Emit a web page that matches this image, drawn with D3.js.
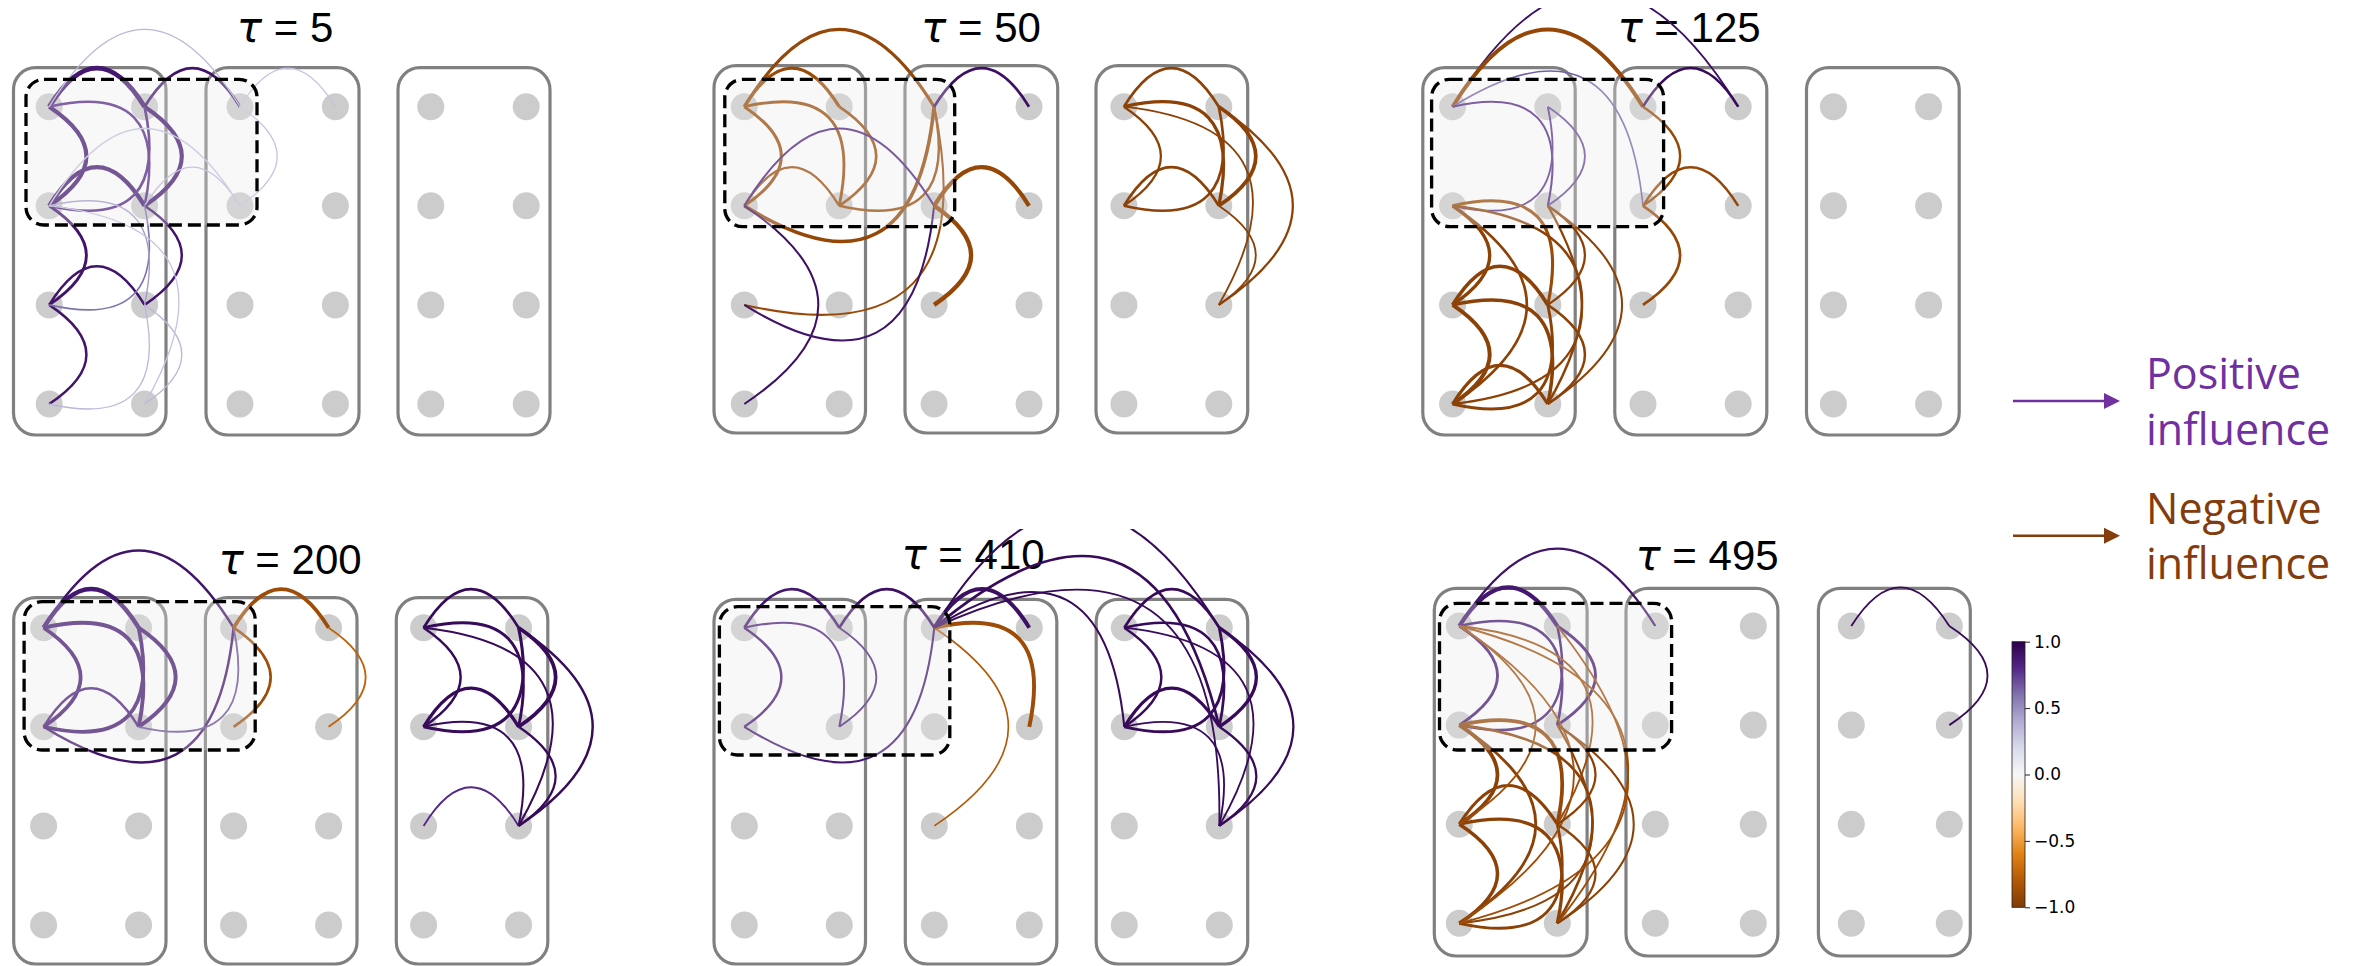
<!DOCTYPE html>
<html>
<head>
<meta charset="utf-8">
<script src="https://cdn.jsdelivr.net/npm/d3@7"></script>
<style>
  body { margin: 0; background: #fff; }
  svg { display: block; }
</style>
</head>
<body>
<div id="chart"></div>
<script>
//////////DATA//////////
// one entry per panel
const taus = [5, 50, 125, 200, 410, 495];

// edges: [fromCol, fromRow, toCol, toRow, influence (-1..1), strength (0..1)]
const edges5 = [
  [1, 0, 0, 0, 0.88, 0.95], [0, 1, 0, 0, 0.88, 0.8], [1, 1, 0, 1, 0.88, 0.85],
  [1, 1, 1, 0, 0.88, 0.8], [1, 1, 0, 0, 0.8, 0.4], [0, 1, 1, 0, 0.82, 0.45],
  [2, 0, 1, 0, 0.9, 0.45], [2, 0, 0, 0, 0.35, 0.12], [3, 0, 2, 0, 0.3, 0.12],
  [2, 1, 2, 0, 0.3, 0.12], [2, 1, 1, 1, 0.35, 0.15], [2, 1, 0, 1, 0.3, 0.12],
  [0, 2, 0, 1, 0.9, 0.5], [1, 2, 0, 2, 0.9, 0.4], [0, 3, 0, 2, 0.9, 0.4],
  [1, 2, 1, 1, 0.9, 0.4], [0, 2, 1, 1, 0.6, 0.2], [1, 2, 0, 1, 0.45, 0.15],
  [1, 3, 1, 2, 0.35, 0.12], [0, 3, 1, 2, 0.35, 0.12], [1, 3, 0, 1, 0.3, 0.12],
];
const edges50 = [
  [2, 0, 0, 0, -0.92, 0.55], [1, 0, 0, 0, -0.9, 0.6], [0, 1, 0, 0, -0.9, 0.55],
  [1, 1, 0, 0, -0.9, 0.5], [1, 1, 1, 0, -0.9, 0.45], [1, 1, 0, 1, -0.9, 0.35],
  [0, 1, 2, 0, -0.92, 0.65], [1, 1, 2, 0, -0.9, 0.4], [0, 2, 2, 0, -0.9, 0.3],
  [2, 1, 0, 1, 0.85, 0.3], [0, 3, 0, 1, 0.92, 0.3], [0, 2, 2, 1, 0.9, 0.3],
  [3, 0, 2, 0, 0.92, 0.45], [2, 2, 2, 1, -0.92, 0.85], [3, 1, 2, 1, -0.92, 0.8],
  [5, 0, 4, 0, -0.95, 0.45], [4, 1, 4, 0, -0.95, 0.35], [5, 1, 4, 1, -0.95, 0.45],
  [5, 1, 4, 0, -0.95, 0.6], [5, 2, 4, 0, -0.95, 0.25], [4, 1, 5, 0, -0.95, 0.45],
  [5, 1, 5, 0, -0.95, 0.7], [5, 2, 5, 0, -0.95, 0.35], [5, 2, 5, 1, -0.95, 0.25],
];
const edges125 = [
  [3, 0, 0, 0, 0.92, 0.25], [2, 0, 0, 0, -0.92, 0.75], [2, 1, 0, 0, 0.65, 0.2],
  [1, 1, 0, 0, 0.82, 0.3], [0, 1, 1, 0, 0.78, 0.25], [1, 1, 1, 0, 0.72, 0.25],
  [3, 0, 2, 0, 0.95, 0.4], [2, 1, 2, 0, -0.92, 0.4], [3, 1, 2, 1, -0.92, 0.4],
  [2, 2, 2, 1, -0.92, 0.45], [0, 2, 0, 1, -0.95, 0.6], [0, 3, 0, 2, -0.95, 0.75],
  [1, 2, 0, 2, -0.95, 0.7], [1, 3, 0, 3, -0.95, 0.6], [1, 3, 0, 2, -0.95, 0.65],
  [0, 3, 1, 2, -0.95, 0.5], [1, 2, 0, 1, -0.9, 0.55], [1, 3, 0, 1, -0.95, 0.4],
  [0, 3, 0, 1, -0.95, 0.45], [1, 2, 1, 1, -0.95, 0.35], [1, 3, 1, 1, -0.95, 0.3],
  [1, 3, 1, 2, -0.95, 0.4], [0, 3, 1, 1, -0.95, 0.35],
];
const edges200 = [
  [2, 0, 0, 0, 0.9, 0.4], [1, 0, 0, 0, 0.88, 0.85], [0, 1, 0, 0, 0.88, 0.7],
  [1, 1, 0, 0, 0.88, 0.75], [1, 1, 0, 1, 0.85, 0.4], [0, 1, 1, 0, 0.88, 0.7],
  [1, 1, 1, 0, 0.88, 0.75], [0, 1, 2, 0, 0.9, 0.4], [1, 1, 2, 0, 0.7, 0.25],
  [3, 0, 2, 0, -0.88, 0.7], [2, 1, 2, 0, -0.88, 0.45], [3, 1, 3, 0, -0.75, 0.25],
  [5, 0, 4, 0, 0.95, 0.45], [4, 1, 4, 0, 0.95, 0.4], [5, 1, 4, 1, 0.95, 0.6],
  [5, 1, 4, 0, 0.95, 0.5], [5, 2, 4, 0, 0.95, 0.3], [4, 1, 5, 0, 0.95, 0.55],
  [5, 1, 5, 0, 0.95, 0.7], [5, 2, 5, 0, 0.95, 0.4], [5, 2, 5, 1, 0.95, 0.35],
  [5, 2, 4, 2, 0.8, 0.25], [5, 2, 4, 1, 0.95, 0.3],
];
const edges410 = [
  [1, 0, 0, 0, 0.88, 0.45], [0, 1, 0, 0, 0.88, 0.4], [1, 1, 0, 0, 0.85, 0.3],
  [1, 1, 1, 0, 0.85, 0.25], [0, 1, 2, 0, 0.88, 0.3], [2, 0, 1, 0, 0.92, 0.45],
  [3, 0, 2, 0, 0.92, 0.75], [3, 1, 2, 0, -0.88, 0.75], [2, 2, 2, 0, -0.8, 0.2],
  [5, 0, 2, 0, 0.95, 0.3], [5, 1, 2, 0, 0.95, 0.45], [4, 1, 2, 0, 0.95, 0.3],
  [5, 2, 2, 0, 0.95, 0.25], [5, 0, 4, 0, 0.95, 0.45], [4, 1, 4, 0, 0.95, 0.4],
  [5, 1, 4, 1, 0.95, 0.55], [5, 1, 4, 0, 0.95, 0.45], [4, 1, 5, 0, 0.95, 0.5],
  [5, 1, 5, 0, 0.95, 0.6], [5, 2, 5, 1, 0.95, 0.35], [5, 2, 4, 0, 0.95, 0.25],
  [5, 2, 4, 1, 0.95, 0.25], [5, 2, 5, 0, 0.95, 0.35],
];
const edges495 = [
  [1, 0, 0, 0, 0.88, 0.8], [2, 0, 0, 0, 0.9, 0.35], [0, 1, 0, 0, 0.88, 0.5],
  [1, 1, 0, 0, 0.88, 0.45], [0, 1, 1, 0, 0.88, 0.4], [1, 1, 1, 0, 0.88, 0.5],
  [1, 2, 0, 1, -0.92, 0.7], [0, 2, 0, 1, -0.95, 0.7], [0, 3, 0, 2, -0.95, 0.65],
  [1, 2, 0, 2, -0.95, 0.55], [1, 3, 0, 2, -0.95, 0.6], [0, 3, 1, 2, -0.95, 0.5],
  [1, 3, 0, 1, -0.95, 0.45], [0, 3, 0, 1, -0.95, 0.5], [1, 3, 0, 0, -0.88, 0.25],
  [1, 2, 0, 0, -0.88, 0.25], [0, 2, 0, 0, -0.88, 0.25], [0, 3, 0, 0, -0.88, 0.25],
  [1, 3, 1, 1, -0.95, 0.3], [1, 3, 1, 2, -0.95, 0.35], [1, 2, 1, 1, -0.95, 0.35],
  [0, 3, 1, 1, -0.95, 0.3], [0, 3, 1, 0, -0.88, 0.25],
  [5, 0, 4, 0, 0.95, 0.25], [5, 1, 5, 0, 0.95, 0.25],
];
const edgeSets = [edges5, edges50, edges125, edges200, edges410, edges495];

const cbarTicks = [1, 0.5, 0, -0.5, -1];
const legendLabels = [
  ["Positive", "influence"],
  ["Negative", "influence"],
];

//////////LAYOUT//////////
const svgObj = { width: 2364, height: 966 };

// node grid: 6 columns (3 groups of 2) x 4 rows, per panel
const panelLayout = [
  { x0: 49.2, dx: 95.4, y0: 106.7, dy: 99.1, gx: [[13.5, 166], [206, 359], [398, 550]], gy: [67.7, 435],
    box: [26, 79.3, 257, 225], title: [285, 42], clipTop: 0 },
  { x0: 744.3, dx: 94.9, y0: 106.7, dy: 99.1, gx: [[714, 865.5], [905, 1057.7], [1096, 1247.7]], gy: [65.7, 433],
    box: [724.8, 79.3, 954.7, 226.7], title: [981, 42], clipTop: 0 },
  { x0: 1452.6, dx: 95.2, y0: 106.7, dy: 99.1, gx: [[1422.8, 1575.2], [1614.8, 1766.8], [1806.5, 1959.2]], gy: [67.7, 435],
    box: [1431.6, 79.3, 1663.6, 226.7], title: [1689, 42], clipTop: 8 },
  { x0: 43.6, dx: 95, y0: 627.7, dy: 99.1, gx: [[13.7, 166], [205.4, 357], [396.3, 547.8]], gy: [597.7, 964],
    box: [24.1, 601.7, 255.2, 750], title: [290, 574], clipTop: 529 },
  { x0: 744.3, dx: 95, y0: 627.7, dy: 99.1, gx: [[714, 865.5], [905.3, 1056.8], [1096.2, 1247.7]], gy: [599.3, 964],
    box: [719.4, 606.7, 949.8, 755], title: [973, 569], clipTop: 529 },
  { x0: 1459.3, dx: 98, y0: 626, dy: 99.1, gx: [[1434.3, 1587.1], [1626, 1777.9], [1818.4, 1970.3]], gy: [588.3, 956],
    box: [1439.5, 603.3, 1671.6, 750], title: [1707, 570], clipTop: 529 },
];

const rad = 0.78; // arc curvature, in grid units

const puorStops = ["#7f3b08", "#b35806", "#e08214", "#fdb863", "#fee0b6", "#f7f7f7",
  "#d8daeb", "#b2abd2", "#8073ac", "#542788", "#2d004b"];
const colorScale = d3.scaleLinear()
  .domain(d3.range(11).map((i) => -1 + i * 0.2))
  .range(puorStops)
  .interpolate(d3.interpolateRgb);
const widthScale = d3.scaleLinear().domain([0, 1]).range([0.8, 5]);

const svg = d3
  .select("#chart")
  .append("svg")
  .attr("width", svgObj.width)
  .attr("height", svgObj.height);

const defs = svg.append("defs");

const arcPath = (e, x, y) => {
  const [c1, r1, c2, r2] = e;
  const dc = c2 - c1;
  const dr = r2 - r1;
  // control point on the right-hand side of travel direction
  const cc = (c1 + c2) / 2 - rad * dr;
  const cr = (r1 + r2) / 2 + rad * dc;
  const p = d3.path();
  p.moveTo(x(c1), y(r1));
  p.quadraticCurveTo(x(cc), y(cr), x(c2), y(r2));
  return p.toString();
};

panelLayout.forEach((lay, i) => {
  const x = d3.scaleLinear().domain([0, 5]).range([lay.x0, lay.x0 + 5 * lay.dx]);
  const y = d3.scaleLinear().domain([0, 3]).range([lay.y0, lay.y0 + 3 * lay.dy]);
  const g = svg.append("g").attr("class", "panel");

  // title
  const title = g
    .append("text")
    .attr("x", lay.title[0])
    .attr("y", lay.title[1])
    .attr("text-anchor", "middle")
    .attr("font-family", "Liberation Sans, Arial, sans-serif")
    .attr("font-size", 42)
    .attr("fill", "#000");
  title.append("tspan").attr("font-family", "DejaVu Sans").attr("font-style", "italic").text("τ");
  title.append("tspan").text(" = " + taus[i]);

  // group boxes
  lay.gx.forEach((gx) => {
    g.append("rect")
      .attr("x", gx[0])
      .attr("y", lay.gy[0])
      .attr("width", gx[1] - gx[0])
      .attr("height", lay.gy[1] - lay.gy[0])
      .attr("rx", 22)
      .attr("fill", "none")
      .attr("stroke", "#808080")
      .attr("stroke-width", 3.2);
  });

  // nodes
  const nodes = d3.cross(d3.range(6), d3.range(4));
  g.selectAll("circle.node")
    .data(nodes)
    .join("circle")
    .attr("class", "node")
    .attr("cx", (d) => x(d[0]))
    .attr("cy", (d) => y(d[1]))
    .attr("r", 13.5)
    .attr("fill", "#cccccc");

  // edges, clipped at the panel's top
  defs.append("clipPath")
    .attr("id", `clip${i}`)
    .append("rect")
    .attr("x", 0)
    .attr("y", lay.clipTop)
    .attr("width", svgObj.width)
    .attr("height", svgObj.height - lay.clipTop);

  g.append("g")
    .attr("clip-path", `url(#clip${i})`)
    .selectAll("path")
    .data(edgeSets[i])
    .join("path")
    .attr("d", (e) => arcPath(e, x, y))
    .attr("fill", "none")
    .attr("stroke", (e) => colorScale(e[4]))
    .attr("stroke-width", (e) => widthScale(e[5]));

  // dashed highlight box (translucent, over the edges)
  g.append("rect")
    .attr("x", lay.box[0])
    .attr("y", lay.box[1])
    .attr("width", lay.box[2] - lay.box[0])
    .attr("height", lay.box[3] - lay.box[1])
    .attr("rx", 18)
    .attr("fill", "#e8e8e8")
    .attr("fill-opacity", 0.3)
    .attr("stroke", "#000")
    .attr("stroke-width", 3.3)
    .attr("stroke-dasharray", "13,6");
});

// legend arrows
const legendColors = ["#7030a0", "#843c0c"];
const legendY = [401, 535.7];
legendLabels.forEach((lbl, i) => {
  const lg = svg.append("g");
  lg.append("line")
    .attr("x1", 2013)
    .attr("x2", 2106)
    .attr("y1", legendY[i])
    .attr("y2", legendY[i])
    .attr("stroke", legendColors[i])
    .attr("stroke-width", 2.6);
  lg.append("path")
    .attr("d", `M2104,${legendY[i] - 8}L2120,${legendY[i]}L2104,${legendY[i] + 8}Z`)
    .attr("fill", legendColors[i]);
  lg.append("text")
    .attr("x", 2146)
    .attr("y", legendY[i] - 12)
    .attr("font-family", "Open Sans, sans-serif")
    .attr("font-size", 43)
    .attr("fill", legendColors[i])
    .text(lbl[0]);
  lg.append("text")
    .attr("x", 2146)
    .attr("y", legendY[i] + 43.5)
    .attr("font-family", "Open Sans, sans-serif")
    .attr("font-size", 43)
    .attr("fill", legendColors[i])
    .text(lbl[1]);
});

// colorbar
const cbar = { x: 2012, width: 13, top: 641.7, bottom: 907.3 };
const grad = defs
  .append("linearGradient")
  .attr("id", "cbarGrad")
  .attr("x1", 0).attr("y1", 0).attr("x2", 0).attr("y2", 1);
puorStops.slice().reverse().forEach((c, i) => {
  grad.append("stop").attr("offset", i / 10).attr("stop-color", c);
});
svg.append("rect")
  .attr("x", cbar.x)
  .attr("y", cbar.top)
  .attr("width", cbar.width)
  .attr("height", cbar.bottom - cbar.top)
  .attr("fill", "url(#cbarGrad)")
  .attr("stroke", "#222")
  .attr("stroke-width", 0.8);

const cbarY = d3.scaleLinear().domain([-1, 1]).range([cbar.bottom, cbar.top]);
const cbarAxis = svg
  .append("g")
  .attr("transform", `translate(${cbar.x + cbar.width}, 0)`)
  .call(d3.axisRight(cbarY).tickValues(cbarTicks).tickFormat(d3.format(".1f")).tickSize(5).tickPadding(4));
cbarAxis.select(".domain").remove();
cbarAxis.selectAll("line").attr("stroke", "#222").attr("stroke-width", 1);
cbarAxis.selectAll("text")
  .attr("font-family", "DejaVu Sans, sans-serif")
  .attr("font-size", 17)
  .attr("fill", "#000");
</script>
</body>
</html>
